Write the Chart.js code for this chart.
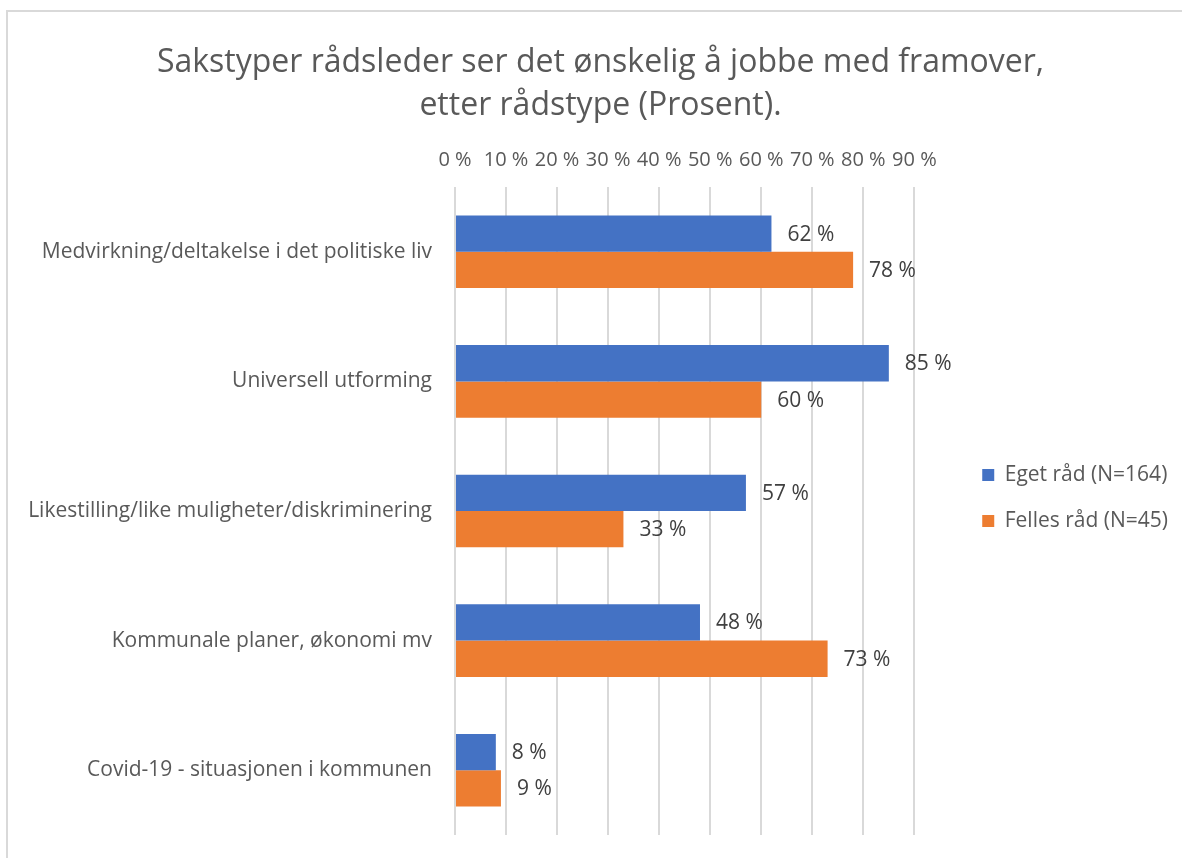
<!DOCTYPE html>
<html>
<head>
<meta charset="utf-8">
<script src="https://cdn.jsdelivr.net/npm/chart.js@4/dist/chart.umd.min.js"></script>
<style>
  html, body { margin: 0; padding: 0; background: #fff; overflow: hidden; }
  #frame { position: absolute; left: 6px; top: 10px; width: 1300px; height: 1000px; border: 2px solid #d9d9d9; }
  #wrap { position: absolute; left: 0; top: 0; width: 1182px; height: 858px; }
</style>
</head>
<body>
<div id="frame"></div>
<div id="wrap"><canvas id="chart"></canvas></div>
<script>
// kategorier og verdier lest av figuren
const categories = [
    'Medvirkning/deltakelse i det politiske liv',
    'Universell utforming',
    'Likestilling/like muligheter/diskriminering',
    'Kommunale planer, økonomi mv',
    'Covid-19 - situasjonen i kommunen'
];
const egetRad = [62, 85, 57, 48, 8];
const fellesRad = [78, 60, 33, 73, 9];
const seriesNames = ['Eget råd (N=164)', 'Felles råd (N=45)'];
const titleLines = ['Sakstyper rådsleder ser det ønskelig å jobbe med framover,', 'etter rådstype (Prosent).'];

const FONT = '"Open Sans"';

// verdietiketter til høyre for stolpene
const valueLabels = {
    id: 'valueLabels',
    afterDatasetsDraw(chart) {
        const ctx = chart.ctx;
        ctx.save();
        ctx.font = '21px ' + FONT;
        ctx.fillStyle = '#404040';
        ctx.textAlign = 'left';
        ctx.textBaseline = 'middle';
        chart.data.datasets.forEach((ds, i) => {
            chart.getDatasetMeta(i).data.forEach((bar, j) => {
                ctx.fillText(ds.data[j] + ' %', bar.x + 16, bar.y + 1);
            });
        });
        ctx.restore();
    }
};

// flytt legenden litt opp, slik som i Excel
const legendNudge = {
    id: 'legendNudge',
    afterLayout(chart) {
        if (chart.legend) {
            chart.legend.top -= 13;
            chart.legend.bottom -= 13;
        }
    }
};

new Chart(document.getElementById('chart').getContext('2d'), {
    type: 'bar',
    data: {
        labels: categories,
        datasets: [{
            label: seriesNames[0],
            data: egetRad,
            backgroundColor: '#4472C4'
        }, {
            label: seriesNames[1],
            data: fellesRad,
            backgroundColor: '#ED7D31'
        }]
    },
    options: {
        indexAxis: 'y',
        responsive: true,
        maintainAspectRatio: false,
        animation: false,
        layout: {
            padding: { left: 23, right: 4, top: 0, bottom: 23 }
        },
        datasets: {
            bar: {
                categoryPercentage: 0.56,
                barPercentage: 1
            }
        },
        plugins: {
            title: {
                display: true,
                text: titleLines,
                color: '#595959',
                font: { family: FONT, size: 32, weight: 'normal', lineHeight: 1.344 },
                padding: { top: 41, bottom: 6 }
            },
            legend: {
                display: true,
                position: 'right',
                fullSize: false,
                labels: {
                    color: '#595959',
                    font: { family: FONT, size: 21 },
                    boxWidth: 12,
                    boxHeight: 12,
                    padding: 25
                }
            },
            tooltip: { enabled: false }
        },
        scales: {
            x: {
                position: 'top',
                min: 0,
                max: 98.4,
                border: { display: false },
                grid: {
                    color: '#d9d9d9',
                    lineWidth: 2,
                    drawTicks: false
                },
                ticks: {
                    stepSize: 10,
                    includeBounds: false,
                    autoSkip: false,
                    maxRotation: 0,
                    padding: 15,
                    color: '#595959',
                    font: { family: FONT, size: 20 },
                    callback: v => v + ' %'
                }
            },
            y: {
                border: { display: false },
                grid: { display: false, drawTicks: false },
                ticks: {
                    padding: 23,
                    color: '#595959',
                    font: { family: FONT, size: 21 }
                },
                afterFit(scale) {
                    scale.width = 432;
                    scale.paddingTop = 0;
                    scale.paddingBottom = 0;
                }
            }
        }
    },
    plugins: [valueLabels, legendNudge]
});
</script>
</body>
</html>
